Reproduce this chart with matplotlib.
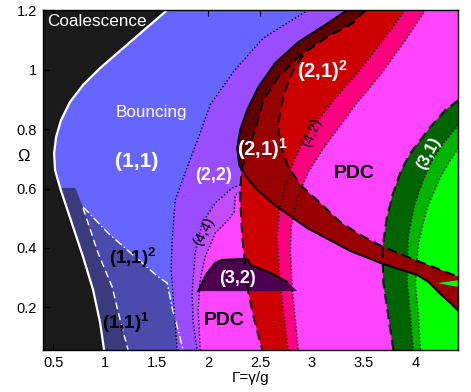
import numpy as np
import matplotlib
matplotlib.use("Agg")
import matplotlib.pyplot as plt

plt.rcParams['font.family'] = ['Liberation Sans', 'DejaVu Sans']
plt.rcParams['mathtext.fontset'] = 'custom'
plt.rcParams['mathtext.rm'] = 'Liberation Sans'
plt.rcParams['mathtext.bf'] = 'Liberation Sans:bold'
plt.rcParams['mathtext.default'] = 'bf'

G0, G1_, O0, O1_ = 0.4, 4.41, 0.057, 1.2

# coalescence / bouncing boundary (white solid)
coal_g = [1.603, 1.390, 1.167, 0.955, 0.790, 0.664, 0.577, 0.529, 0.510, 0.519, 0.568, 0.681, 0.790, 0.887, 0.955, 0.993]
coal_o = [1.200, 1.136, 1.069, 1.005, 0.948, 0.891, 0.830, 0.773, 0.719, 0.662, 0.602, 0.484, 0.370, 0.259, 0.148, 0.057]

# (1,1)^1 boundary (white dashed) and (1,1)^2 boundary (white dash-dot)
b11a_g = [0.732, 0.790, 0.935, 1.071, 1.148, 1.225]
b11a_o = [0.588, 0.534, 0.383, 0.269, 0.158, 0.057]
b11b_g = [0.732, 0.790, 1.032, 1.274, 1.506, 1.603, 1.651, 1.709, 1.757]
b11b_o = [0.588, 0.538, 0.450, 0.376, 0.306, 0.282, 0.198, 0.124, 0.057]
top11_g = [0.597, 0.713]
top11_o = [0.602, 0.602]

# (2,2) boundary (dotted)
b22_g = [2.966, 2.531, 2.241, 2.018, 1.922, 1.796, 1.680, 1.651, 1.641, 1.680, 1.699]
b22_o = [1.200, 1.106, 0.992, 0.881, 0.787, 0.672, 0.561, 0.427, 0.326, 0.148, 0.057]

# (4,4) boundaries (dotted)
c1_g = [2.308, 2.231, 2.067, 1.941, 1.873, 1.844, 1.854, 1.893]
c1_o = [0.612, 0.602, 0.551, 0.484, 0.383, 0.249, 0.148, 0.057]
c2_g = [2.308, 2.260, 2.250, 2.192, 2.067, 1.970, 1.922, 1.902, 1.922]
c2_o = [0.588, 0.578, 0.521, 0.494, 0.450, 0.370, 0.292, 0.192, 0.057]

# (2,1) outer boundary + tail lower edge (solid)
outer_g = [3.343, 3.130, 2.869, 2.647, 2.483, 2.376, 2.308, 2.279, 2.299, 2.376, 2.473, 2.666, 2.956, 3.372, 3.691, 4.020, 4.127, 4.243, 4.339, 4.417]
outer_o = [1.200, 1.150, 1.092, 1.022, 0.941, 0.864, 0.797, 0.736, 0.679, 0.635, 0.595, 0.538, 0.467, 0.390, 0.346, 0.309, 0.286, 0.245, 0.215, 0.188]

# (2,1)^2 left boundary (dashed)
d1_g = [3.517, 3.392, 3.130, 2.869, 2.676, 2.531, 2.453, 2.386, 2.318, 2.308, 2.328, 2.376, 2.444, 2.521]
d1_o = [1.200, 1.156, 1.106, 1.042, 0.975, 0.897, 0.797, 0.729, 0.662, 0.561, 0.437, 0.269, 0.158, 0.057]

# (2,1)^1 inner boundary + tail upper edge (dashed)
d2_g = [3.517, 3.392, 3.130, 2.937, 2.821, 2.744, 2.695, 2.676, 2.715, 2.763, 2.889, 3.082, 3.275, 3.469, 3.691, 3.952, 4.146, 4.417]
d2_o = [1.200, 1.156, 1.106, 1.059, 0.998, 0.931, 0.864, 0.797, 0.729, 0.679, 0.612, 0.551, 0.487, 0.444, 0.403, 0.366, 0.340, 0.303]

# (4,2) band edges (dotted)
p1_g = [3.904, 3.691, 3.450, 3.198, 3.024, 2.918, 2.831, 2.744, 2.686, 2.666, 2.686, 2.724, 2.773]
p1_o = [1.200, 1.099, 0.992, 0.891, 0.813, 0.756, 0.696, 0.612, 0.528, 0.437, 0.326, 0.192, 0.057]
p2_g = [4.098, 3.904, 3.662, 3.421, 3.256, 3.101, 2.966, 2.869, 2.802, 2.792, 2.811, 2.840, 2.869]
p2_o = [1.200, 1.099, 0.982, 0.881, 0.803, 0.729, 0.655, 0.578, 0.477, 0.393, 0.259, 0.158, 0.057]

# (3,2) region
r32_g = [1.902, 1.951, 1.989, 2.067, 2.134, 2.337, 2.386, 2.405, 2.599, 2.763, 2.860]
r32_o = [0.255, 0.292, 0.316, 0.350, 0.360, 0.363, 0.360, 0.343, 0.316, 0.286, 0.255]

# (3,1) boundaries
g1_g = [4.417, 4.291, 4.146, 4.049, 3.952, 3.856, 3.779, 3.720, 3.682, 3.691, 3.740, 3.788]
g1_o = [0.897, 0.864, 0.807, 0.763, 0.719, 0.655, 0.578, 0.494, 0.393, 0.282, 0.168, 0.057]
g2_g = [4.417, 4.272, 4.165, 4.078, 3.991, 3.933, 3.923, 3.923, 3.952, 3.981]
g2_o = [0.813, 0.753, 0.696, 0.629, 0.545, 0.444, 0.360, 0.282, 0.168, 0.057]
g3_g = [4.417, 4.339, 4.243, 4.117, 4.030, 4.001, 4.030, 4.049]
g3_o = [0.736, 0.696, 0.639, 0.538, 0.417, 0.282, 0.168, 0.057]
sliver_g = [4.214, 4.417, 4.417]
sliver_o = [0.282, 0.292, 0.269]

xticks = [0.5, 1, 1.5, 2, 2.5, 3, 3.5, 4]
xlabels = ['0.5', '1', '1.5', '2', '2.5', '3', '3.5', '4']
yticks = [0.2, 0.4, 0.6, 0.8, 1.0, 1.2]
ylabels = ['0.2', '0.4', '0.6', '0.8', '1', '1.2']

fig = plt.figure(figsize=(4.71, 3.92), dpi=100)
ax = fig.add_axes([0.0907, 0.1071, 0.8811, 0.8673])
ax.set_facecolor('#1a1a1a')


def poly(g, o, color, z):
    ax.fill(g, o, color=color, lw=0, zorder=z)


R = 4.6  # beyond right edge
poly(coal_g + [R, R], coal_o + [0.0, 1.3], '#6666ff', 1)

# (1,1)^1 and (1,1)^2
g = coal_g[10:] + b11a_g[::-1] + top11_g[::-1]
o = coal_o[10:] + b11a_o[::-1] + top11_o[::-1]
poly(g, o, '#3a3a7c', 2)
poly(b11b_g + b11a_g[::-1], b11b_o + b11a_o[::-1], '#4b4bad', 2)

# (2,2)
poly(b22_g + [R, R], b22_o + [0.0, 1.3], '#9a4dff', 3)

# PDC magenta
d1g, d1o = np.array(d1_g), np.array(d1_o)
m = d1o > 0.59
g = c2_g[::-1] + list(d1g[m][::-1]) + [R, R]
o = c2_o[::-1] + list(d1o[m][::-1]) + [1.3, 0.0]
poly(g, o, '#ff44ff', 4)

# (4,4)
poly(c1_g + c2_g[::-1], c1_o + c2_o[::-1], '#c24cff', 5)

# (2,1)^2 red band and (4,2) pink band
poly(d1_g + p1_g[::-1], d1_o + p1_o[::-1], '#cc0000', 6)
poly(p1_g + p2_g[::-1], p1_o + p2_o[::-1], '#ff0080', 6)

# (3,1) greens
poly(g1_g + [R, R], g1_o + [0.0, 0.897], '#006400', 7)
poly(g2_g + [R, R], g2_o + [0.0, 0.813], '#00b400', 7)
poly(g3_g + [R, R], g3_o + [0.0, 0.736], '#00ff00', 7)

# (2,1)^1 dark red with tail
poly(outer_g + [R, R] + d2_g[::-1], outer_o + [0.188, 0.303] + d2_o[::-1], '#990000', 8)
poly(sliver_g, sliver_o, '#00ff00', 9)

# maroon band
og, oo = np.array(outer_g), np.array(outer_o)
ms = oo >= 0.67
md = d1o >= 0.66
poly(list(og[ms]) + list(d1g[md][::-1]), list(oo[ms]) + list(d1o[md][::-1]), '#5e0000', 9)

# (3,2)
poly(r32_g, r32_o, '#4d0050', 10)

# lines
dot = dict(color='k', lw=1.0, ls=(0, (1, 1.6)), zorder=12)
dash = dict(color='k', lw=1.4, ls=(0, (5, 3)), zorder=12)
ax.plot(coal_g, coal_o, color='white', lw=1.6, zorder=12)
ax.plot(b11a_g[1:], b11a_o[1:], color='white', lw=1.0, ls=(0, (5, 3)), zorder=12)
ax.plot(b11b_g[1:], b11b_o[1:], color='white', lw=1.0, ls=(0, (6, 2, 1, 2)), zorder=12)
for gg, oo_ in [(b22_g, b22_o), (c1_g, c1_o), (c2_g, c2_o), (p1_g, p1_o),
                (p2_g, p2_o), (g2_g, g2_o), (g3_g, g3_o)]:
    ax.plot(gg, oo_, **dot)
for gg, oo_ in [(d1_g, d1_o), (d2_g, d2_o), (g1_g, g1_o)]:
    ax.plot(gg, oo_, **dash)
ax.plot(outer_g, outer_o, color='k', lw=1.4, zorder=12)
ax.plot(r32_g[:-1], r32_o[:-1], color='k', lw=1.4, zorder=12)

# labels
wb = dict(color='white', fontweight='bold', ha='center', va='center', zorder=15)
kb = dict(color='black', fontweight='bold', ha='center', va='center', zorder=15)
ax.text(0.442, 1.160, 'Coalescence', color='white', fontsize=12.3, ha='left', va='center', zorder=15)
ax.text(1.448, 0.857, 'Bouncing', color='white', fontsize=12.3, ha='center', va='center', zorder=15)
ax.text(1.312, 0.692, '(1,1)', fontsize=15, **wb)
ax.text(2.047, 0.645, '(2,2)', fontsize=13, **wb)
ax.text(2.521, 0.732, r'(2,1)$^1$', fontsize=14.5, **wb)
ax.text(3.101, 0.995, r'(2,1)$^2$', fontsize=14.5, **wb)
ax.text(2.279, 0.296, '(3,2)', fontsize=13, **wb)
ax.text(4.127, 0.719, '(3,1)', fontsize=12, rotation=62, **wb)
ax.text(3.005, 0.787, '(4,2)', fontsize=10.5, rotation=66, color='black', ha='center', va='center', zorder=15)
ax.text(1.960, 0.454, '(4,4)', fontsize=10.5, rotation=62, color='black', ha='center', va='center', zorder=15)
ax.text(1.274, 0.366, r'(1,1)$^2$', fontsize=13.5, **kb)
ax.text(1.206, 0.148, r'(1,1)$^1$', fontsize=13.5, **kb)
ax.text(3.411, 0.652, 'PDC', fontsize=14, **kb)
ax.text(2.154, 0.155, 'PDC', fontsize=14, **kb)

ax.set_xlim(G0, G1_)
ax.set_ylim(O0, O1_)
ax.set_xticks(xticks)
ax.set_xticklabels(xlabels)
ax.set_yticks(yticks)
ax.set_yticklabels(ylabels)
ax.tick_params(direction='in', top=True, right=True, length=4, labelsize=10.5, pad=4)
ax.set_xlabel('Γ=γ/g', fontsize=11, labelpad=1)
ax.text(-0.047, 0.568, 'Ω', transform=ax.transAxes, fontsize=12, ha='center', va='center')
for s in ax.spines.values():
    s.set_linewidth(1.0)
    s.set_zorder(20)

fig.savefig('out.png', dpi=100)
